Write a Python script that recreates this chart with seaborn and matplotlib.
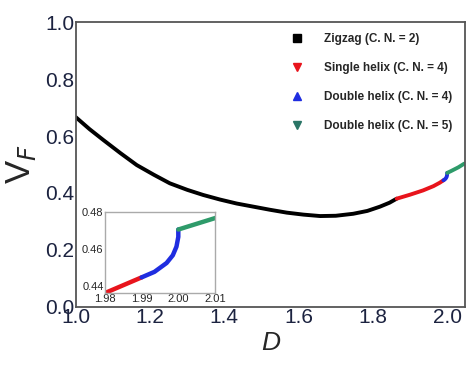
import matplotlib
matplotlib.use("Agg")
import matplotlib.pyplot as plt
import seaborn as sns
from matplotlib.lines import Line2D

sns.set_style("white")
plt.rcParams['font.family'] = ['Liberation Sans', 'DejaVu Sans']

# zigzag (C. N. = 2)
zig_d = [1.0, 1.037, 1.074, 1.12, 1.164, 1.21, 1.253, 1.30, 1.343, 1.388, 1.433,
         1.478, 1.523, 1.568, 1.613, 1.658, 1.70, 1.747, 1.785, 1.819, 1.845, 1.864]
zig_v = [0.666, 0.624, 0.586, 0.540, 0.498, 0.464, 0.434, 0.411, 0.393, 0.377, 0.363,
         0.352, 0.341, 0.331, 0.324, 0.319, 0.320, 0.327, 0.337, 0.352, 0.366, 0.380]
# single helix (C. N. = 4)
sh_d = [1.864, 1.90, 1.935, 1.963, 1.98, 1.99]
sh_v = [0.380, 0.394, 0.409, 0.424, 0.436, 0.4445]
# double helix (C. N. = 4)
dh4_d = [1.99, 1.9935, 1.9968, 1.9985, 1.9995, 2.0, 2.0]
dh4_v = [0.4445, 0.4475, 0.4523, 0.4565, 0.4612, 0.4665, 0.4705]
# double helix (C. N. = 5)
dh5_d = [2.0, 2.01, 2.03, 2.046]
dh5_v = [0.4705, 0.4767, 0.490, 0.503]

labels = ["Zigzag (C. N. = 2)", "Single helix (C. N. = 4)",
          "Double helix (C. N. = 4)", "Double helix (C. N. = 5)"]
colors = ["#000000", "#e8141c", "#1f2de0", "#2e9b6a"]
markers = ["s", "v", "^", "v"]
marker_colors = ["#000000", "#e8141c", "#1f2de0", "#2a7566"]

segments = [(zig_d, zig_v), (sh_d, sh_v), (dh4_d, dh4_v), (dh5_d, dh5_v)]

fig = plt.figure(figsize=(4.74, 3.68), dpi=100)
ax = fig.add_axes([0.160, 0.166, 0.821, 0.774])

for (d, v), c in zip(segments, colors):
    sns.lineplot(x=d, y=v, color=c, lw=2.8, sort=False, estimator=None, ax=ax)

ax.set_xlim(1.0, 2.048)
ax.set_ylim(0.0, 1.0)
ax.set_xticks([1.0, 1.2, 1.4, 1.6, 1.8, 2.0])
ax.set_yticks([0.0, 0.2, 0.4, 0.6, 0.8, 1.0])
ax.set_xticklabels(["1.0", "1.2", "1.4", "1.6", "1.8", "2.0"])
ax.set_yticklabels(["0.0", "0.2", "0.4", "0.6", "0.8", "1.0"])
ax.tick_params(length=0, labelsize=15, labelcolor="#1c2340", pad=1)
for s in ax.spines.values():
    s.set_color("#555555")
    s.set_linewidth(1.3)

ax.set_xlabel("D", fontsize=19, style="italic", labelpad=3)
ax.set_ylabel(r"V$_{\mathit{F}}$", fontsize=25, labelpad=5)

handles = [Line2D([], [], ls="none", marker=m, color=mc, markersize=6)
           for m, mc in zip(markers, marker_colors)]
ax.legend(handles, labels, loc="upper right", frameon=False,
          prop={"size": 8.5, "weight": "bold"}, labelspacing=1.45,
          handletextpad=1.3, bbox_to_anchor=(0.995, 1.0))

# inset
ins = fig.add_axes([0.2215, 0.2038, 0.232, 0.220])
for (d, v), c in zip(segments[1:], colors[1:]):
    sns.lineplot(x=d, y=v, color=c, lw=3.2, sort=False, estimator=None, ax=ins)
ins.set_xlim(1.98, 2.01)
ins.set_ylim(0.436, 0.48)
ins.set_xticks([1.98, 1.99, 2.00, 2.01])
ins.set_xticklabels(["1.98", "1.99", "2.00", "2.01"])
ins.set_yticks([0.44, 0.46, 0.48])
ins.set_yticklabels(["0.44", "0.46", "0.48"])
ins.tick_params(length=0, labelsize=8, pad=1)
for s in ins.spines.values():
    s.set_color("#aaaaaa")
    s.set_linewidth(1.0)

fig.savefig("out.png", dpi=100)
